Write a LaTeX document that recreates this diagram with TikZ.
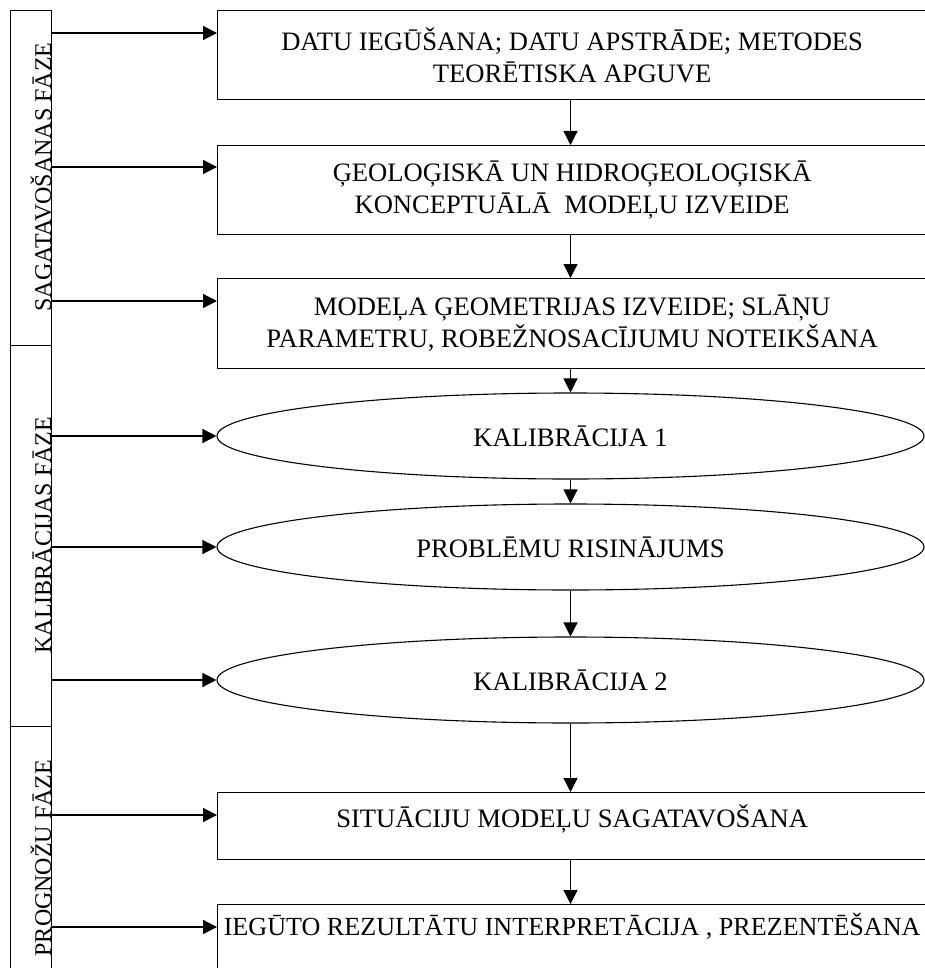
\documentclass[tikz,border=0pt]{standalone}
\usepackage{fontspec}
\setmainfont{Liberation Serif}
\usetikzlibrary{arrows.meta,shapes.geometric}

\begin{document}
\begin{tikzpicture}[x=1pt,y=-1pt,line width=1.3pt,
  font=\fontsize{26.6}{32}\selectfont,
  box/.style={draw,rectangle,anchor=north west,minimum width=709pt,align=center,inner sep=0pt},
  oval/.style={draw,ellipse,line width=1.1pt,minimum width=707pt,minimum height=86pt,inner sep=0pt},
  phase/.style={draw,rectangle,anchor=north west,minimum width=41pt,inner sep=0pt},
  phasetext/.style={rotate=90,anchor=base,inner sep=0pt,font=\fontsize{24}{28}\selectfont},
  arr/.style={-{Triangle[length=14pt,width=14pt]}}
]

\useasboundingbox (0,0) rectangle (924,968);

% phase bars on the left
\node[phase,minimum height=335pt] (sag) at (10,10) {};
\node[phase,minimum height=381pt] (kal) at (10,345) {};
\node[phase,minimum height=264pt] (prog) at (10,726) {};
\node[phasetext] (sagt) at (51,177) {SAGATAVOŠANAS FĀZE};
\node[phasetext] (kalt) at (51,535) {KALIBRĀCIJAS FĀZE};
\node[phasetext] (progt) at (51,858) {PROGNOŽU FĀZE};

% steps
\node[box,minimum height=89pt] (dati) at (217,10) {DATU IEGŪŠANA; DATU APSTRĀDE; METODES\\TEORĒTISKA APGUVE};
\node[box,minimum height=89pt] (geo) at (217,145) {ĢEOLOĢISKĀ UN HIDROĢEOLOĢISKĀ\\KONCEPTUĀLĀ\ \ MODEĻU IZVEIDE};
\node[box,minimum height=90pt] (geom) at (217,278) {MODEĻA ĢEOMETRIJAS IZVEIDE; SLĀŅU\\PARAMETRU, ROBEŽNOSACĪJUMU NOTEIKŠANA};
\node[oval] (kal1) at (570.5,436) {KALIBRĀCIJA 1};
\node[oval] (prob) at (570.5,547) {PROBLĒMU RISINĀJUMS};
\node[oval] (kal2) at (570.5,680) {KALIBRĀCIJA 2};
\node[box,minimum height=67pt,text height=20pt,text depth=17pt] (sit) at (217,792) {SITUĀCIJU MODEĻU SAGATAVOŠANA};
\node[box,minimum height=90pt,text height=20pt,text depth=48pt,font=\fontsize{26.1}{32}\selectfont] (rez) at (217,904) {IEGŪTO REZULTĀTU INTERPRETĀCIJA , PREZENTĒŠANA};

% arrows from the phases
\draw[arr] (sag.east |- 0,33) -- (dati.west |- 0,33);
\draw[arr] (sag.east |- 0,167) -- (geo.west |- 0,167);
\draw[arr] (sag.east |- 0,301) -- (geom.west |- 0,301);
\draw[arr] (kal.east |- kal1.west) -- (kal1.west);
\draw[arr] (kal.east |- prob.west) -- (prob.west);
\draw[arr] (kal.east |- kal2.west) -- (kal2.west);
\draw[arr] (prog.east |- 0,815) -- (sit.west |- 0,815);
\draw[arr] (prog.east |- 0,927) -- (rez.west |- 0,927);

% arrows between the steps
\draw[arr] (dati.south -| kal1) -- (geo.north -| kal1);
\draw[arr] (geo.south -| kal1) -- (geom.north -| kal1);
\draw[arr] (geom.south -| kal1) -- (kal1.north);
\draw[arr] (kal1.south) -- (prob.north);
\draw[arr] (prob.south) -- (kal2.north);
\draw[arr] (kal2.south) -- (sit.north -| kal2);
\draw[arr] (sit.south -| kal2) -- (rez.north -| kal2);

\end{tikzpicture}
\end{document}
